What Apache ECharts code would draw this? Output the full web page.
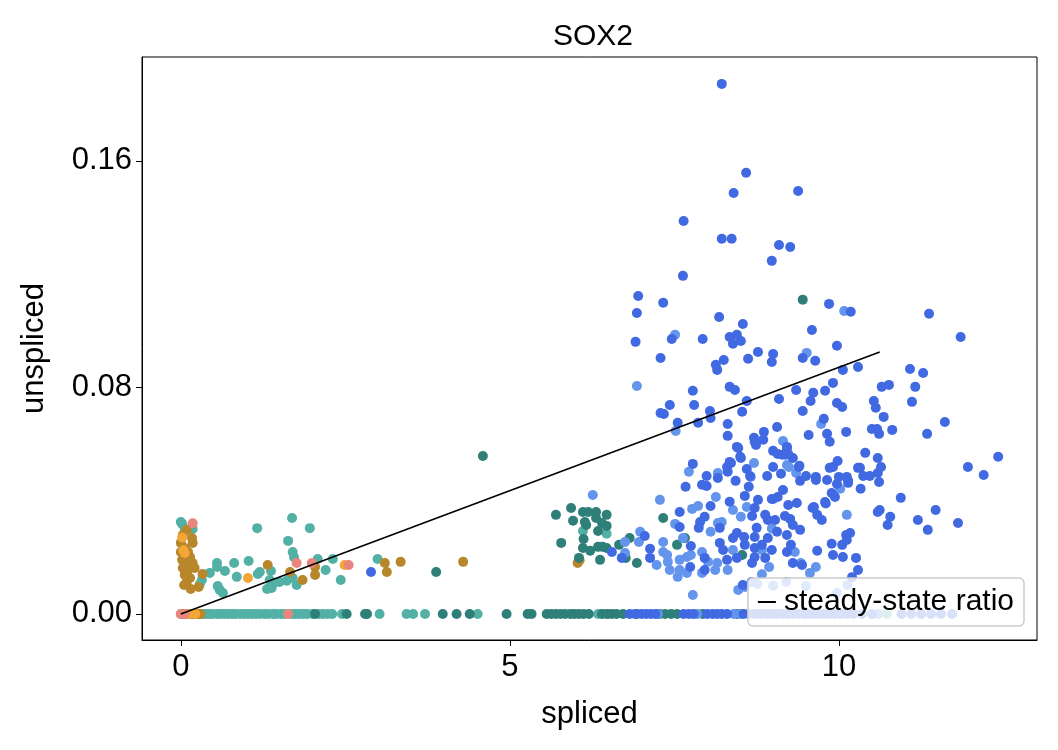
<!DOCTYPE html>
<html><head><meta charset="utf-8">
<script src="https://cdn.jsdelivr.net/npm/echarts@6/dist/echarts.min.js"></script>
<style>html,body{margin:0;padding:0;background:#fff}#c{width:1058px;height:750px}</style>
</head><body><div id="c"></div>
<script>
const titleText = "SOX2";
const xName = "spliced";
const yName = "unspliced";
const legendName = "steady-state ratio";
const xTicks = [0, 5, 10];
const yTicks = [0, 0.08, 0.16];
const steadyLine = [[0, 0], [10.62, 0.0925]];

const blue = [[8.22,0.1872],[8.59,0.1558],[8.40,0.1487],[9.38,0.1494],[7.64,0.1388],[8.22,0.1325],[8.37,0.1325],[9.09,0.1303],[9.26,0.1296],[8.98,0.1247],[7.63,0.1194],
[6.95,0.1123],[7.33,0.1099],[6.93,0.1063],[9.85,0.1095],[10.18,0.1067],[11.37,0.106],[11.85,0.0978],[8.18,0.1049],[8.54,0.1024],[6.91,0.0961],[7.46,0.0971],[7.93,0.0971],[8.34,0.0978],[8.45,0.0986],[8.39,0.0954],[8.51,0.0964],[9.59,0.1003],[9.97,0.0947],[7.29,0.0904],[8.25,0.0897],[8.13,0.088],[8.15,0.0862],[8.62,0.0901],[8.77,0.0925],[9.00,0.0918],[8.98,0.089],[9.45,0.0904],[9.64,0.0894],[10.06,0.0862],[10.29,0.0872],[11.08,0.0865],[11.28,0.0851],
[8.34,0.0802],[8.42,0.0791],[7.78,0.0788],[9.35,0.0791],[9.61,0.0781],[9.79,0.0788],[9.91,0.0816],[10.65,0.0802],[10.76,0.0809],[11.16,0.0802],
[7.43,0.0738],[7.80,0.0738],[7.29,0.071],[7.34,0.0706],[8.04,0.0717],[8.05,0.0692],[8.53,0.0714],[8.60,0.0752],[9.09,0.0759],[9.57,0.0752],[9.45,0.0717],[9.97,0.0745],[10.05,0.0731],[10.53,0.0752],[10.56,0.0728],[10.68,0.0696],[11.11,0.0749],
[7.55,0.0675],[7.86,0.0675],[9.77,0.0689],[8.31,0.0671],[8.31,0.0629],[9.06,0.066],[9.54,0.0632],[9.82,0.0636],[9.86,0.0608],[10.11,0.0643],[10.50,0.0653],[10.58,0.0653],[10.61,0.0636],[10.81,0.065],[11.61,0.0678],[11.34,0.0636],
[8.71,0.0622],[8.86,0.0643],[8.85,0.0615],[8.74,0.0597],[8.47,0.0586],[9.00,0.0576],[9.07,0.0565],[9.21,0.0586],[9.19,0.0562],[9.30,0.0551],[10.40,0.0569],[10.59,0.0551],[10.64,0.0519],[11.96,0.0519],[12.20,0.0491],[12.42,0.0555],
[7.78,0.053],[7.99,0.0487],[7.92,0.0456],[7.99,0.0452],[7.67,0.0449],[8.16,0.048],[8.31,0.0502],[8.36,0.0533],[8.43,0.047],[8.51,0.0551],[8.60,0.0512],[8.63,0.0449],[8.91,0.0487],[9.00,0.0519],[9.12,0.0495],[9.39,0.0519],[9.41,0.047],[9.50,0.0487],[9.65,0.0484],[9.82,0.0473],[9.86,0.0516],[9.91,0.0519],[9.98,0.054],[9.97,0.0459],[10.14,0.047],[10.14,0.0463],[10.29,0.0516],[10.47,0.0487],[10.61,0.0466],[10.33,0.0442],[9.15,0.0438],[8.57,0.0417],[9.00,0.0406],[9.89,0.0427],[10.94,0.041],
[7.58,0.036],[8.05,0.0381],[8.34,0.0396],[7.96,0.0343],[7.89,0.0325],[7.87,0.0304],[7.58,0.0307],[8.19,0.0304],[7.75,0.024],[8.19,0.0251],[8.39,0.0268],[8.56,0.0272],[8.57,0.0244],[8.45,0.0286],[7.13,0.0198],[7.74,0.0166],[7.96,0.0198],[7.96,0.0155],[8.30,0.0191],[8.45,0.0198],[8.24,0.0226],[8.72,0.0201],[8.68,0.018],[8.45,0.059],[8.72,0.0608],[8.34,0.0537],[8.50,0.0555],[8.30,0.0519],[8.77,0.0403],
[9.21,0.059],[9.14,0.0562],[9.23,0.0565],[9.40,0.0523],[9.65,0.0473],[10.00,0.0484],[10.12,0.0484],[10.32,0.0516],[10.59,0.0498],[10.37,0.0487],[8.65,0.0487],[9.07,0.0413],[8.98,0.0406],[9.23,0.0385],[9.36,0.0392],[9.60,0.0374],[9.67,0.035],[9.74,0.0332],[9.79,0.0395],[9.94,0.0413],[10.59,0.036],[8.72,0.0374],[8.68,0.0346],[8.88,0.035],[8.92,0.0332],[9.03,0.0332],[9.26,0.0335],[9.18,0.0346],[9.30,0.0314],[9.41,0.0297],[8.75,0.0304],[8.72,0.0272],[8.92,0.0268],[9.06,0.029],[9.21,0.0279],[8.83,0.0244],[8.98,0.0226],[8.72,0.0233],[9.21,0.0219],[9.67,0.0223],[9.91,0.0208],[10.06,0.0201],[10.05,0.0244],[10.12,0.0261],[10.17,0.0286],[10.26,0.0198],[8.88,0.0198],[9.30,0.018],[9.44,0.0173],[9.27,0.0244],
[10.62,0.0367],[10.78,0.0343],[10.74,0.0314],[11.20,0.0332],[11.35,0.0297],[11.47,0.0367],[11.81,0.0321],[10.11,0.0279],[10.29,0.0155],[10.20,0.013],[9.89,0.0248],[9.62,0.0378],[9.80,0.039],
[2.89,0.0148],[6.55,0.0219],[7.13,0.023],[8.54,0.0102],[6.70,0.0198],[7.05,0.0275]];

const lightBlue = [[10.08,0.107],[7.51,0.0986],[9.51,0.0922],[6.93,0.0805],[7.52,0.0646],[9.73,0.0671],[9.15,0.0611],[7.72,0.0502],[8.16,0.0498],[8.71,0.0533],[8.66,0.0484],[9.24,0.0519],[9.35,0.0498],[10.02,0.0442],[8.13,0.0413],[7.28,0.0403],[9.21,0.0526],
[7.77,0.0371],[7.86,0.0381],[8.39,0.0367],[8.51,0.0343],[8.60,0.0378],[7.51,0.0318],[8.16,0.0321],[8.22,0.0325],[8.05,0.029],[7.63,0.0268],[7.33,0.0254],[6.96,0.0254],[6.75,0.0215],[8.39,0.0226],[7.33,0.0219],[7.23,0.0173],[7.39,0.0208],[7.40,0.0184],[7.58,0.0191],[7.69,0.0201],[7.75,0.0208],[7.43,0.0155],[7.58,0.0155],[7.69,0.0145],[7.55,0.0131],[7.92,0.0219],[8.01,0.0184],[8.15,0.018],[8.12,0.0155],[7.92,0.0145],[8.31,0.0155],[8.47,0.0085],[7.78,0.0067],[8.57,0.0095],
[10.12,0.035],[9.33,0.0219],[9.42,0.018],[9.65,0.0166],[9.56,0.0145],[8.94,0.0166],[8.83,0.014],[8.76,0.0106],[8.67,0.0113],[9.00,0.010],[9.20,0.0113],[9.50,0.0099],[9.97,0.0074],[10.13,0.0102],[6.26,0.042],[6.98,0.029],[6.75,0.0254],[8.98,0.0302],[8.83,0.0226]];

const darkTeal = [[4.59,0.0558],[9.45,0.111],[3.88,0.0148],[5.70,0.035],[5.93,0.0374],[5.96,0.0329],[6.11,0.036],[6.19,0.036],[6.14,0.0325],[6.16,0.0314],[6.31,0.036],[6.31,0.0339],[6.47,0.035],[6.40,0.0321],[6.47,0.0311],[6.34,0.0293],[6.12,0.0265],[5.78,0.0251],[6.11,0.0233],[6.22,0.0223],[6.34,0.0237],[6.41,0.0237],[6.47,0.0233],[6.05,0.0198],[6.37,0.0191],[6.66,0.0244],[6.82,0.0268],[6.76,0.0198],[6.93,0.018],[7.33,0.0339],[7.54,0.0244],[8.53,0.0208],[7.66,0.0268]];

const teal = [[0.02,0.0318],[0.18,0.030],[1.16,0.0303],[1.69,0.0339],[1.96,0.0303],[1.63,0.0258],[1.70,0.0219],[1.72,0.020],[0.55,0.018],[0.81,0.018],[1.03,0.0187],[0.55,0.0166],[0.44,0.0145],[0.67,0.0152],[0.85,0.0131],[1.17,0.0141],[1.20,0.0148],[1.37,0.0152],[1.35,0.012],[1.38,0.0092],[1.31,0.0088],[0.56,0.0099],[0.59,0.0085],[0.64,0.0074],[0.32,0.012],[0.29,0.0106],[1.50,0.0113],[1.61,0.0117],[1.70,0.0127],[1.76,0.0102],[2.08,0.0194],[2.31,0.0194],[2.20,0.0155],[2.43,0.012],[2.99,0.0194],[0.00,0.0325],[0.06,0.030],[6.11,0.0293],[6.47,0.0283],[1.42,0.011]];

const gold = [[0.03,0.0279],[0.17,0.0268],[0.00,0.0251],[0.18,0.0251],[0.06,0.0233],[0.14,0.0201],[0.02,0.0191],[0.18,0.018],[0.03,0.0162],[0.11,0.0155],[0.06,0.0138],[0.14,0.0127],[0.09,0.0113],[0.15,0.0088],[0.27,0.0095],[0.33,0.0141],[0.00,0.0219],[0.11,0.0219],[0.08,0.018],[0.09,0.0297],[0.05,0.0102],[0.21,0.0162],
[1.32,0.0173],[1.66,0.0148],[1.85,0.012],[2.04,0.0166],[2.04,0.0138],[3.10,0.018],[3.13,0.0148],[3.34,0.0184],[4.29,0.0184],[6.03,0.018],[6.06,0.019]];

const orange = [[0.06,0.0215],[0.02,0.027],[1.02,0.0127],[2.49,0.0173],[0.04,0.0225]];
const salmon = [[0.18,0.032],[1.76,0.018],[1.99,0.018],[2.55,0.0173]];

// cells with zero unspliced counts (x = spliced)
const tealZero = [0.00,0.05,0.10,0.17,0.22,0.28,0.33,0.38,0.43,0.48,0.55,0.60,0.66,0.72,0.78,0.83,0.90,0.96,1.02,1.08,1.14,1.20,1.27,1.33,1.40,1.45,1.52,1.58,1.68,1.74,1.80,1.86,1.92,2.00,2.10,2.16,2.23,2.30,2.45,3.02,3.43,3.53,3.71,4.51,6.34,6.50,10.73];
const darkTealZero = [2.04,2.52,2.80,2.83,3.98,4.19,4.39,4.95,5.27,5.33,5.56,5.63,5.70,5.77,5.84,5.92,5.98,6.05,6.12,6.20,6.40,6.47,6.55,6.62,6.72,6.93,7.28,7.36,7.45,7.54,7.93,8.45];
const blueZero = [6.82,6.90,7.00,7.07,7.14,7.21,7.64,7.72,7.79,8.00,8.08,8.15,8.22,8.30,8.55,8.63,8.72,8.82,8.90,8.98,9.06,9.14,9.22,9.30,9.38,9.46,9.54,9.62,9.70,9.78,9.86,9.94,10.02,10.12,10.22,10.35,10.50,10.95,11.10,11.25,11.40,11.55,11.72];
const lightBlueZero = [7.25,7.85,8.40,8.50,8.78,9.05,9.50,10.10,10.60];
const goldZero = [0.05,0.10,0.15,0.20,0.25,0.30];
const orangeZero = [0.12,0.22];
const salmonZero = [0.00,0.06,1.63];

const withZeros = (pts, zs) => pts.concat(zs.map(x => [x, 0]));
const font = "'Liberation Sans', Arial, sans-serif";
const FS = 31;

function scatter(name, data, color) {
  return { name, type: 'scatter', data, symbolSize: 10, itemStyle: { color, opacity: 1 }, emphasis: { disabled: true }, z: 2 };
}

const chart = echarts.init(document.getElementById('c'), null, { renderer: 'canvas' });
chart.setOption({
  animation: false,
  backgroundColor: '#fff',
  title: { text: titleText, left: 548, top: 17, textStyle: { fontFamily: font, fontSize: FS - 1, fontWeight: 'normal', color: '#000' } },
  grid: { left: 142, right: 21, top: 57, bottom: 110, show: true, borderColor: '#000', borderWidth: 1, backgroundColor: 'transparent' },
  legend: {
    data: [legendName], right: 34, bottom: 124, orient: 'horizontal',
    backgroundColor: 'rgba(255,255,255,0.8)', borderColor: '#cccccc', borderWidth: 1.5, borderRadius: 5,
    padding: [9, 10, 9, 10], itemWidth: 18, itemHeight: 2, icon: 'rect', itemGap: 8,
    textStyle: { fontFamily: font, fontSize: FS - 1, color: '#000', padding: [0, 0, 0, 3] }
  },
  xAxis: {
    type: 'value', min: -0.59, max: 13.01, name: xName, nameLocation: 'middle', nameGap: 59,
    nameTextStyle: { fontFamily: font, fontSize: FS, color: '#000' },
    axisLine: { show: true, onZero: false, lineStyle: { color: '#000', width: 1 } },
    axisTick: { show: true, length: 6, lineStyle: { color: '#000', width: 1 }, customValues: xTicks },
    axisLabel: { fontFamily: font, fontSize: FS, color: '#000', margin: 12, customValues: xTicks, formatter: v => String(v) },
    splitLine: { show: false }
  },
  yAxis: {
    type: 'value', min: -0.0092, max: 0.1967, name: yName, nameLocation: 'middle', nameGap: 92,
    nameTextStyle: { fontFamily: font, fontSize: FS, color: '#000' },
    axisLine: { show: true, onZero: false, lineStyle: { color: '#000', width: 1 } },
    axisTick: { show: true, length: 6, lineStyle: { color: '#000', width: 1 }, customValues: yTicks },
    axisLabel: { fontFamily: font, fontSize: FS, color: '#000', margin: 10, customValues: yTicks, formatter: v => v.toFixed(2) },
    splitLine: { show: false }
  },
  series: [
    scatter('teal', withZeros(teal, tealZero), '#52b0a5'),
    scatter('gold', withZeros(gold, goldZero), '#b8872b'),
    scatter('orange', withZeros(orange, orangeZero), '#f4a637'),
    scatter('salmon', withZeros(salmon, salmonZero), '#e8857d'),
    scatter('darkTeal', withZeros(darkTeal, darkTealZero), '#2f7f79'),
    scatter('lightBlue', withZeros(lightBlue, lightBlueZero), '#6495ed'),
    scatter('blue', withZeros(blue, blueZero), '#4169e1'),
    { name: legendName, type: 'line', data: steadyLine, showSymbol: false, symbol: 'none',
      lineStyle: { color: '#000', width: 1.6 }, itemStyle: { color: '#000' }, z: 5, emphasis: { disabled: true } }
  ]
});
</script></body></html>
